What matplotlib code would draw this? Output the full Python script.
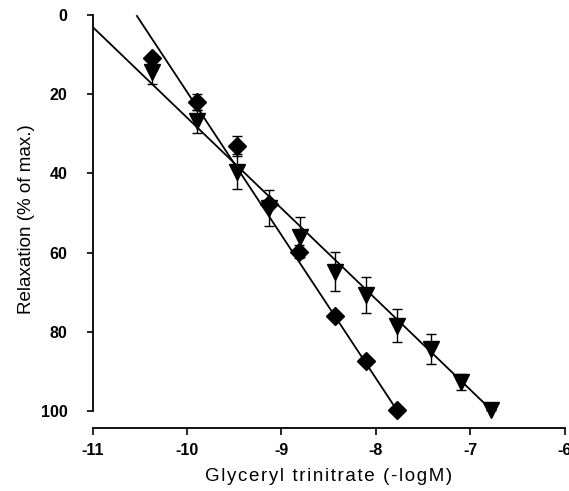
import matplotlib
matplotlib.use("Agg")
import matplotlib.pyplot as plt
import numpy as np

plt.rcParams['font.family'] = ['Liberation Sans', 'DejaVu Sans']

# Diamond series
dia_x = [-10.37, -9.89, -9.47, -9.13, -8.81, -8.43, -8.10, -7.78]
dia_y = [10.9, 21.9, 33.0, 47.7, 59.8, 76.0, 87.4, 99.7]
dia_err = [0.0, 2.0, 2.5, 0.0, 1.6, 0.0, 0.0, 0.0]

# Triangle series
tri_x = [-10.37, -9.89, -9.47, -9.13, -8.80, -8.43, -8.10, -7.78, -7.42, -7.10, -6.78]
tri_y = [14.5, 26.9, 39.6, 48.8, 56.1, 64.8, 70.7, 78.5, 84.4, 92.6, 99.7]
tri_err = [3.0, 3.0, 4.4, 4.5, 5.0, 5.0, 4.5, 4.2, 3.8, 2.0, 0.0]

# Regression lines (end points)
dia_line_x = [-10.53, -7.78]
dia_line_y = [0.25, 99.7]
tri_line_x = [-11.0, -6.78]
tri_line_y = [3.0, 99.7]

xticks = [-11, -10, -9, -8, -7, -6]
yticks = [0, 20, 40, 60, 80, 100]

fig = plt.figure(figsize=(5.69, 4.91), dpi=100)
ax = fig.add_axes([0.1626, 0.1283, 0.830, 0.8493])

ax.plot(dia_line_x, dia_line_y, color='black', lw=1.3, zorder=2)
ax.plot(tri_line_x, tri_line_y, color='black', lw=1.3, zorder=2)

ax.errorbar(tri_x, tri_y, yerr=tri_err, fmt='none', ecolor='black', elinewidth=1.0,
            capsize=3.5, capthick=1.0, zorder=3)
ax.errorbar(dia_x, dia_y, yerr=dia_err, fmt='none', ecolor='black', elinewidth=1.0,
            capsize=3.5, capthick=1.0, zorder=3)
ax.plot(tri_x, tri_y, linestyle='none', marker='v', markersize=11, color='black', zorder=4)
ax.plot(dia_x, dia_y, linestyle='none', marker='D', markersize=9, color='black', zorder=5)

ax.set_xlim(-11, -6)
ax.set_ylim(104.3, -1.0)
ax.spines['top'].set_visible(False)
ax.spines['right'].set_visible(False)
ax.spines['left'].set_bounds(0, 100)
ax.spines['left'].set_linewidth(1.3)
ax.spines['bottom'].set_linewidth(1.3)

ax.set_xticks(xticks)
ax.set_yticks(yticks)
ax.set_xticklabels([str(t) for t in xticks], fontsize=11.5, fontweight='bold')
ax.set_yticklabels([str(t) for t in yticks], fontsize=11.5, fontweight='bold')
ax.tick_params(axis='x', direction='out', length=5, width=1.2, pad=6)
ax.tick_params(axis='y', direction='out', length=4, width=1.2, pad=14)

xlabel = '\u200a'.join('Glyceryl trinitrate (-logM)')
ax.set_xlabel(xlabel, fontsize=13.5, labelpad=7)
ax.set_ylabel('Relaxation (% of max.)', fontsize=13.5, labelpad=4)

fig.savefig('out.png', dpi=100)
